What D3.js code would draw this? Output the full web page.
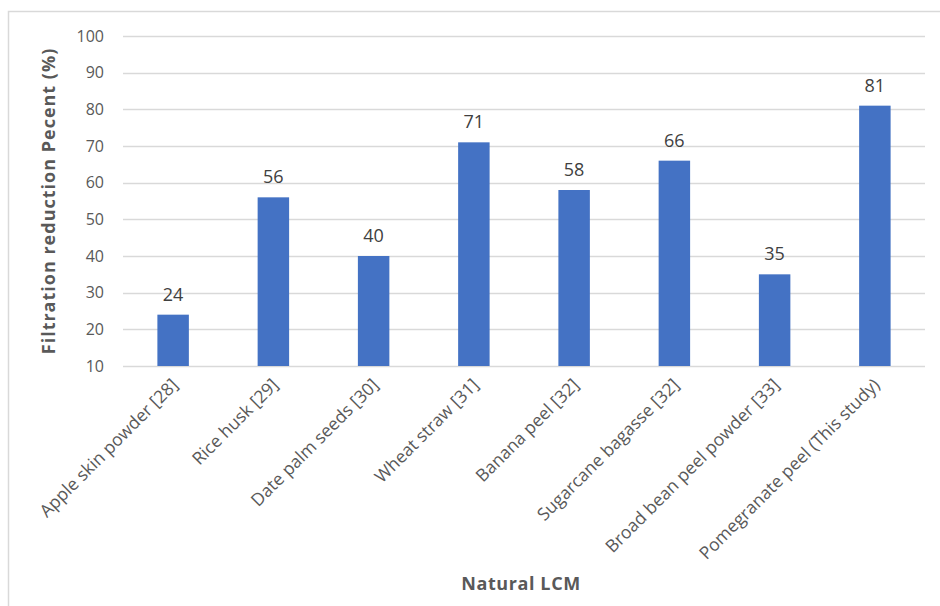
<!DOCTYPE html>
<html>
<head>
<meta charset="utf-8">
<script src="https://cdn.jsdelivr.net/npm/d3@7/dist/d3.min.js"></script>
<style>
  html, body { margin: 0; padding: 0; background: #fff; }
  svg { display: block; }
  svg text { font-family: "Open Sans", "Noto Sans", sans-serif; }
</style>
</head>
<body>
<svg id="chart" width="940" height="606"></svg>
<script>
// Filtration reduction by natural lost-circulation material
const categories = [
  "Apple skin powder [28]",
  "Rice husk [29]",
  "Date palm seeds [30]",
  "Wheat straw [31]",
  "Banana peel [32]",
  "Sugarcane bagasse [32]",
  "Broad bean peel powder [33]",
  "Pomegranate peel (This study)"
];
const values = [24, 56, 40, 71, 58, 66, 35, 81];
const yTicks = [10, 20, 30, 40, 50, 60, 70, 80, 90, 100];
const yTitle = "Filtration reduction Pecent (%)";
const xTitle = "Natural LCM";

const svg = d3.select("#chart");
const W = 940, H = 606;
const plot = { left: 123, right: 925, top: 36, bottom: 366 };

// outer chart frame
svg.append("rect")
  .attr("x", 8.5).attr("y", 11.5)
  .attr("width", W + 20).attr("height", H + 20)
  .attr("fill", "#fff")
  .attr("stroke", "#d9d9d9").attr("stroke-width", 1.5);

const x = d3.scaleBand()
  .domain(categories)
  .range([plot.left, plot.right])
  .paddingInner(0.686)
  .paddingOuter(0.343);

const y = d3.scaleLinear()
  .domain([10, 100])
  .range([plot.bottom, plot.top]);

// horizontal gridlines
svg.append("g")
  .selectAll("line")
  .data(yTicks)
  .join("line")
  .attr("x1", plot.left).attr("x2", plot.right)
  .attr("y1", d => Math.round(y(d)) + 0.5)
  .attr("y2", d => Math.round(y(d)) + 0.5)
  .attr("stroke", "#d9d9d9").attr("stroke-width", 1.5);

// y axis tick labels
const yAxis = d3.axisLeft(y).tickValues(yTicks).tickSize(0).tickPadding(19);
const gy = svg.append("g")
  .attr("transform", `translate(${plot.left},0)`)
  .call(yAxis)
  .attr("font-family", null)
  .attr("font-size", null);
gy.select(".domain").remove();
gy.selectAll("text")
  .attr("fill", "#595959")
  .style("font-size", "16px");

// bars
svg.append("g")
  .selectAll("rect")
  .data(values)
  .join("rect")
  .attr("x", (d, i) => x(categories[i]))
  .attr("width", x.bandwidth())
  .attr("y", d => y(d))
  .attr("height", d => y(10) - y(d))
  .attr("fill", "#4472c4");

// value labels
svg.append("g")
  .selectAll("text")
  .data(values)
  .join("text")
  .attr("x", (d, i) => x(categories[i]) + x.bandwidth() / 2)
  .attr("y", d => y(d) - 14)
  .attr("text-anchor", "middle")
  .attr("fill", "#404040")
  .style("font-size", "18px")
  .text(d => d);

// rotated category labels
const xAxis = d3.axisBottom(x).tickSize(0).tickPadding(0);
const gx = svg.append("g")
  .attr("transform", `translate(0,${plot.bottom})`)
  .call(xAxis)
  .attr("font-family", null)
  .attr("font-size", null);
gx.select(".domain").remove();
gx.selectAll("text")
  .attr("fill", "#595959")
  .style("font-size", "17.5px")
  .attr("text-anchor", "end")
  .attr("dy", null)
  .attr("y", 0)
  .attr("transform", "translate(6,20) rotate(-45)");

// axis titles
svg.append("text")
  .attr("transform", `translate(55,${(plot.top + plot.bottom) / 2}) rotate(-90)`)
  .attr("text-anchor", "middle")
  .attr("fill", "#595959")
  .style("font-size", "18px")
  .style("letter-spacing", "1px")
  .style("font-weight", "bold")
  .text(yTitle);

svg.append("text")
  .attr("x", (plot.left + plot.right) / 2 - 3)
  .attr("y", 590)
  .attr("text-anchor", "middle")
  .attr("fill", "#595959")
  .style("font-size", "18px")
  .style("letter-spacing", "0.6px")
  .style("font-weight", "bold")
  .text(xTitle);
</script>
</body>
</html>
